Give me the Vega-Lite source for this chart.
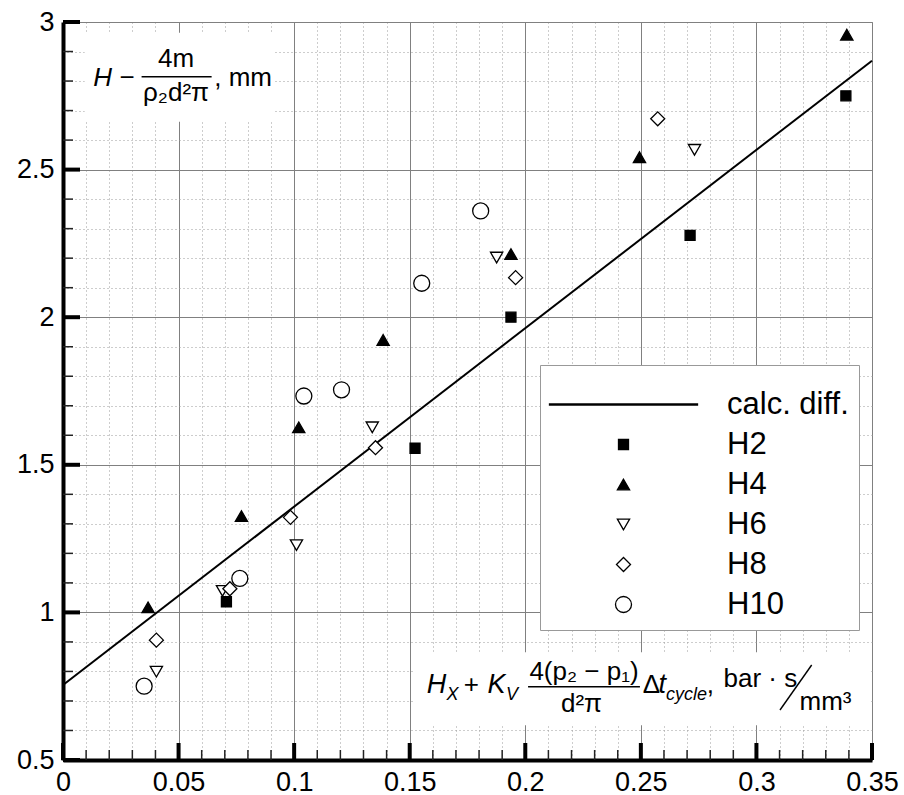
{
  "$schema": "https://vega.github.io/schema/vega-lite/v6.json",
  "width": 809,
  "height": 738,
  "autosize": {"type": "none"},
  "padding": {"left": 63, "top": 22, "right": 32, "bottom": 35},
  "background": "white",
  "view": {"stroke": "#8c8c8c", "strokeWidth": 1},
  "config": {"font": "Liberation Sans"},
  "resolve": {"axis": {"x": "independent", "y": "independent"}},
  "layer": [
    {
      "data": {"values": [
        {"x1": 0.0094, "x2": 0.0917, "y1": 2.964, "y2": 2.662},
        {"x1": 0.1523, "x2": 0.3492, "y1": 0.865, "y2": 0.618}
      ]},
      "mark": {"type": "rect", "fill": "white"},
      "encoding": {
        "x": {"field": "x1", "type": "quantitative",
          "scale": {"domain": [0, 0.35], "nice": false, "zero": false},
          "axis": {"orient": "bottom", "values": [0.01,0.02,0.03,0.04,0.06,0.07,0.08,0.09,0.11,0.12,0.13,0.14,0.16,0.17,0.18,0.19,0.21,0.22,0.23,0.24,0.26,0.27,0.28,0.29,0.31,0.32,0.33,0.34],
            "grid": true, "gridColor": "#9a9a9a", "gridDash": [1, 3], "gridWidth": 1,
            "ticks": false, "labels": false, "domain": false, "title": null, "zindex": 0}},
        "x2": {"field": "x2"},
        "y": {"field": "y1", "type": "quantitative",
          "scale": {"domain": [0.5, 3], "nice": false, "zero": false},
          "axis": {"orient": "left", "values": [0.6,0.7,0.8,0.9,1.1,1.2,1.3,1.4,1.6,1.7,1.8,1.9,2.1,2.2,2.3,2.4,2.6,2.7,2.8,2.9],
            "grid": true, "gridColor": "#9a9a9a", "gridDash": [1, 3], "gridWidth": 1,
            "ticks": false, "labels": false, "domain": false, "title": null, "zindex": 0}},
        "y2": {"field": "y2"}
      }
    },
    {
      "data": {"values": [{"x": 0, "y": 0.754}, {"x": 0.35, "y": 2.869}]},
      "mark": {"type": "line", "color": "black", "strokeWidth": 2},
      "encoding": {
        "x": {"field": "x", "type": "quantitative",
          "scale": {"domain": [0, 0.35], "nice": false, "zero": false},
          "axis": {"orient": "bottom", "values": [0,0.05,0.1,0.15,0.2,0.25,0.3,0.35], "format": "~g",
            "grid": true, "gridColor": "#808080", "gridWidth": 1,
            "ticks": false,
            "domain": true, "domainColor": "black", "domainWidth": 4,
            "labels": true, "labelFontSize": 27, "labelColor": "black", "labelFont": "Liberation Sans",
            "labelPadding": 9, "labelFlush": false, "labelOverlap": false, "labelBound": false,
            "title": null, "zindex": 0}},
        "y": {"field": "y", "type": "quantitative",
          "scale": {"domain": [0.5, 3], "nice": false, "zero": false},
          "axis": {"orient": "left", "values": [0.5,1,1.5,2,2.5,3], "format": "~g",
            "grid": true, "gridColor": "#808080", "gridWidth": 1,
            "ticks": false,
            "domain": true, "domainColor": "black", "domainWidth": 4,
            "labels": true, "labelFontSize": 27, "labelColor": "black", "labelFont": "Liberation Sans",
            "labelPadding": 9, "labelFlush": false, "labelOverlap": false, "labelBound": false,
            "title": null, "zindex": 0}}
      }
    },
    {
      "data": {"values": [{"v": 0}, {"v": 0.05}, {"v": 0.1}, {"v": 0.15}, {"v": 0.2}, {"v": 0.25}, {"v": 0.3}, {"v": 0.35}]},
      "mark": {"type": "rule", "color": "black", "strokeWidth": 4, "opacity": 1},
      "encoding": {
        "x": {"field": "v", "type": "quantitative",
          "scale": {"domain": [0, 0.35], "nice": false, "zero": false}, "axis": null},
        "y": {"datum": 0.5, "type": "quantitative",
          "scale": {"domain": [0.5, 3], "nice": false, "zero": false}, "axis": null},
        "y2": {"datum": 0.5576}
      }
    },
    {
      "data": {"values": [{"v": 0.5}, {"v": 1}, {"v": 1.5}, {"v": 2}, {"v": 2.5}, {"v": 3}]},
      "mark": {"type": "rule", "color": "black", "strokeWidth": 4, "opacity": 1},
      "encoding": {
        "y": {"field": "v", "type": "quantitative",
          "scale": {"domain": [0.5, 3], "nice": false, "zero": false}, "axis": null},
        "x": {"datum": 0, "type": "quantitative",
          "scale": {"domain": [0, 0.35], "nice": false, "zero": false}, "axis": null},
        "x2": {"datum": 0.00736}
      }
    },
    {
      "data": {"values": [{"v": 0.01}, {"v": 0.02}, {"v": 0.03}, {"v": 0.04}, {"v": 0.06}, {"v": 0.07}, {"v": 0.08}, {"v": 0.09}, {"v": 0.11}, {"v": 0.12}, {"v": 0.13}, {"v": 0.14}, {"v": 0.16}, {"v": 0.17}, {"v": 0.18}, {"v": 0.19}, {"v": 0.21}, {"v": 0.22}, {"v": 0.23}, {"v": 0.24}, {"v": 0.26}, {"v": 0.27}, {"v": 0.28}, {"v": 0.29}, {"v": 0.31}, {"v": 0.32}, {"v": 0.33}, {"v": 0.34}]},
      "mark": {"type": "rule", "color": "#222", "strokeWidth": 1.5, "opacity": 1},
      "encoding": {
        "x": {"field": "v", "type": "quantitative",
          "scale": {"domain": [0, 0.35], "nice": false, "zero": false}, "axis": null},
        "y": {"datum": 0.5, "type": "quantitative",
          "scale": {"domain": [0.5, 3], "nice": false, "zero": false}, "axis": null},
        "y2": {"datum": 0.5339}
      }
    },
    {
      "data": {"values": [{"v": 0.6}, {"v": 0.7}, {"v": 0.8}, {"v": 0.9}, {"v": 1.1}, {"v": 1.2}, {"v": 1.3}, {"v": 1.4}, {"v": 1.6}, {"v": 1.7}, {"v": 1.8}, {"v": 1.9}, {"v": 2.1}, {"v": 2.2}, {"v": 2.3}, {"v": 2.4}, {"v": 2.6}, {"v": 2.7}, {"v": 2.8}, {"v": 2.9}]},
      "mark": {"type": "rule", "color": "#222", "strokeWidth": 1.5, "opacity": 1},
      "encoding": {
        "y": {"field": "v", "type": "quantitative",
          "scale": {"domain": [0.5, 3], "nice": false, "zero": false}, "axis": null},
        "x": {"datum": 0, "type": "quantitative",
          "scale": {"domain": [0, 0.35], "nice": false, "zero": false}, "axis": null},
        "x2": {"datum": 0.00433}
      }
    },
    {
      "data": {"values": [
        {"series": "H2", "x": 0.0707, "y": 1.036},
        {"series": "H2", "x": 0.1523, "y": 1.556},
        {"series": "H2", "x": 0.1938, "y": 2.0},
        {"series": "H2", "x": 0.2713, "y": 2.277},
        {"series": "H2", "x": 0.3387, "y": 2.75},
        {"series": "H4", "x": 0.0368, "y": 1.017},
        {"series": "H4", "x": 0.0772, "y": 1.326},
        {"series": "H4", "x": 0.102, "y": 1.627},
        {"series": "H4", "x": 0.1385, "y": 1.923},
        {"series": "H4", "x": 0.1938, "y": 2.214},
        {"series": "H4", "x": 0.2494, "y": 2.542},
        {"series": "H4", "x": 0.3391, "y": 2.957},
        {"series": "H6", "x": 0.0404, "y": 0.799},
        {"series": "H6", "x": 0.069, "y": 1.073},
        {"series": "H6", "x": 0.101, "y": 1.228},
        {"series": "H6", "x": 0.1338, "y": 1.627},
        {"series": "H6", "x": 0.1876, "y": 2.202},
        {"series": "H6", "x": 0.2732, "y": 2.567},
        {"series": "H8", "x": 0.0404, "y": 0.906},
        {"series": "H8", "x": 0.0722, "y": 1.08},
        {"series": "H8", "x": 0.0984, "y": 1.322},
        {"series": "H8", "x": 0.1352, "y": 1.558},
        {"series": "H8", "x": 0.1958, "y": 2.134},
        {"series": "H8", "x": 0.2573, "y": 2.672},
        {"series": "H10", "x": 0.0351, "y": 0.75},
        {"series": "H10", "x": 0.0765, "y": 1.115},
        {"series": "H10", "x": 0.1042, "y": 1.733},
        {"series": "H10", "x": 0.1205, "y": 1.754},
        {"series": "H10", "x": 0.1552, "y": 2.115},
        {"series": "H10", "x": 0.1807, "y": 2.36}
      ]},
      "mark": {"type": "point", "stroke": "black", "strokeWidth": 1.3, "opacity": 1},
      "encoding": {
        "x": {"field": "x", "type": "quantitative",
          "scale": {"domain": [0, 0.35], "nice": false, "zero": false}, "axis": null},
        "y": {"field": "y", "type": "quantitative",
          "scale": {"domain": [0.5, 3], "nice": false, "zero": false}, "axis": null},
        "shape": {"field": "series", "type": "nominal",
          "scale": {"type": "ordinal", "domain": ["calc. diff.", "H2", "H4", "H6", "H8", "H10"],
            "range": ["M-14.8,-0.1H14.8V0.1H-14.8Z", "square", "triangle-up", "triangle-down", "diamond", "circle"]},
          "legend": {"title": " ", "orient": "none", "legendX": 477, "legendY": 343,
            "fillColor": "white", "strokeColor": "#999", "padding": 10,
            "labelFontSize": 31, "labelFont": "Liberation Sans", "labelColor": "black", "labelLimit": 0,
            "rowPadding": 8, "symbolOffset": 58, "labelOffset": 88,
            "symbolStrokeColor": "black", "symbolStrokeWidth": 1.3,
            "titleFontSize": 10, "titlePadding": 4}},
        "fill": {"field": "series", "type": "nominal",
          "scale": {"type": "ordinal", "domain": ["calc. diff.", "H2", "H4", "H6", "H8", "H10"],
            "range": ["black", "black", "black", "white", "white", "white"]}},
        "size": {"field": "series", "type": "nominal",
          "scale": {"type": "ordinal", "domain": ["calc. diff.", "H2", "H4", "H6", "H8", "H10"],
            "range": [100, 100, 150, 150, 196, 256]}}
      }
    },
    {
      "data": {"values": [
        {"x": 0.034, "x2": 0.0643, "y": 2.8147, "y2": 2.8147},
        {"x": 0.2012, "x2": 0.2496, "y": 0.7483, "y2": 0.7483},
        {"x": 0.3102, "x2": 0.3239, "y": 0.6694, "y2": 0.8218}
      ]},
      "mark": {"type": "rule", "color": "black", "strokeWidth": 1.4},
      "encoding": {
        "x": {"field": "x", "type": "quantitative",
          "scale": {"domain": [0, 0.35], "nice": false, "zero": false}, "axis": null},
        "x2": {"field": "x2"},
        "y": {"field": "y", "type": "quantitative",
          "scale": {"domain": [0.5, 3], "nice": false, "zero": false}, "axis": null},
        "y2": {"field": "y2"}
      }
    },
    {
      "data": {"values": [
        {"x": 0.0277, "y": 2.784, "t": "−"},
        {"x": 0.0489, "y": 2.848, "t": "4m"},
        {"x": 0.0489, "y": 2.731, "t": "ρ₂d²π"},
        {"x": 0.0779, "y": 2.784, "t": ", mm"}
      ]},
      "mark": {"type": "text", "align": "center", "baseline": "alphabetic", "fontSize": 26, "color": "black", "font": "Liberation Sans"},
      "encoding": {
        "x": {"field": "x", "type": "quantitative",
          "scale": {"domain": [0, 0.35], "nice": false, "zero": false}, "axis": null},
        "y": {"field": "y", "type": "quantitative",
          "scale": {"domain": [0.5, 3], "nice": false, "zero": false}, "axis": null},
        "text": {"field": "t"}
      }
    },
    {
      "data": {"values": [
        {"x": 0.0171, "y": 2.784, "t": "H"}
      ]},
      "mark": {"type": "text", "align": "center", "baseline": "alphabetic", "fontSize": 26, "fontStyle": "italic", "color": "black", "font": "Liberation Sans"},
      "encoding": {
        "x": {"field": "x", "type": "quantitative",
          "scale": {"domain": [0, 0.35], "nice": false, "zero": false}, "axis": null},
        "y": {"field": "y", "type": "quantitative",
          "scale": {"domain": [0.5, 3], "nice": false, "zero": false}, "axis": null},
        "text": {"field": "t"}
      }
    },
    {
      "data": {"values": [
        {"x": 0.1767, "y": 0.727, "t": "+"},
        {"x": 0.2254, "y": 0.771, "t": "4(p₂ − p₁)"},
        {"x": 0.2243, "y": 0.6637, "t": "d²π"},
        {"x": 0.2546, "y": 0.727, "t": "Δ"},
        {"x": 0.2801, "y": 0.727, "t": ","},
        {"x": 0.3017, "y": 0.7483, "t": "bar · s"},
        {"x": 0.3299, "y": 0.6694, "t": "mm³"}
      ]},
      "mark": {"type": "text", "align": "center", "baseline": "alphabetic", "fontSize": 26, "color": "black", "font": "Liberation Sans"},
      "encoding": {
        "x": {"field": "x", "type": "quantitative",
          "scale": {"domain": [0, 0.35], "nice": false, "zero": false}, "axis": null},
        "y": {"field": "y", "type": "quantitative",
          "scale": {"domain": [0.5, 3], "nice": false, "zero": false}, "axis": null},
        "text": {"field": "t"}
      }
    },
    {
      "data": {"values": [
        {"x": 0.1616, "y": 0.727, "t": "H"},
        {"x": 0.1875, "y": 0.727, "t": "K"},
        {"x": 0.2593, "y": 0.727, "t": "t"}
      ]},
      "mark": {"type": "text", "align": "center", "baseline": "alphabetic", "fontSize": 27, "fontStyle": "italic", "color": "black", "font": "Liberation Sans"},
      "encoding": {
        "x": {"field": "x", "type": "quantitative",
          "scale": {"domain": [0, 0.35], "nice": false, "zero": false}, "axis": null},
        "y": {"field": "y", "type": "quantitative",
          "scale": {"domain": [0.5, 3], "nice": false, "zero": false}, "axis": null},
        "text": {"field": "t"}
      }
    },
    {
      "data": {"values": [
        {"x": 0.1685, "y": 0.7033, "t": "X"},
        {"x": 0.1942, "y": 0.7033, "t": "V"},
        {"x": 0.2697, "y": 0.7033, "t": "cycle"}
      ]},
      "mark": {"type": "text", "align": "center", "baseline": "alphabetic", "fontSize": 18, "fontStyle": "italic", "color": "black", "font": "Liberation Sans"},
      "encoding": {
        "x": {"field": "x", "type": "quantitative",
          "scale": {"domain": [0, 0.35], "nice": false, "zero": false}, "axis": null},
        "y": {"field": "y", "type": "quantitative",
          "scale": {"domain": [0.5, 3], "nice": false, "zero": false}, "axis": null},
        "text": {"field": "t"}
      }
    }
  ]
}
